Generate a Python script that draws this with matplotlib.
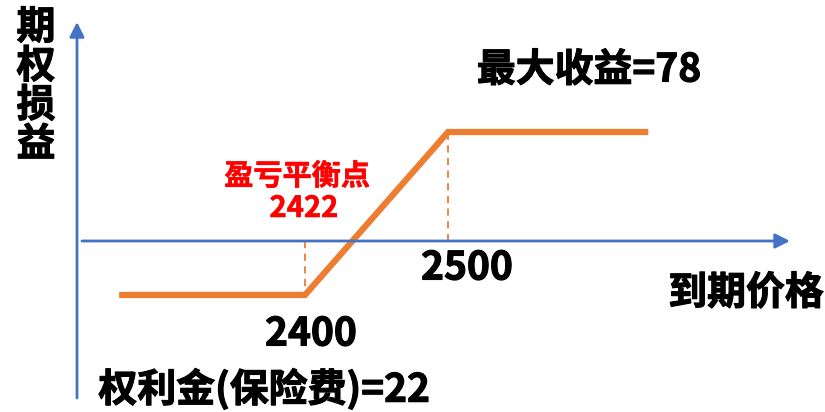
import numpy as np
import matplotlib
matplotlib.use("Agg")
from matplotlib import pyplot as plt
import matplotlib.patheffects as pe

plt.rcParams['font.family'] = ['Noto Sans CJK SC', 'DejaVu Sans']
plt.rcParams['font.weight'] = 'heavy'

# bull call spread payoff
price = [2270, 2400, 2500, 2640]
payoff = [-22, -22, 78, 78]
strike_low = 2400
strike_high = 2500
breakeven = 2422
max_gain = 78
premium = 22

blue = '#4472C4'
orange = '#ED7D31'

# losses drawn stretched so the small premium stays readable
k = 1.7565
def fwd(y):
    y = np.asarray(y, dtype=float)
    return np.where(y < 0, y * k, y)
def inv(t):
    t = np.asarray(t, dtype=float)
    return np.where(t < 0, t / k, t)

fig = plt.figure(figsize=(8.25, 4.12), dpi=100)
ax = fig.add_axes([0, 0, 1, 1])
ax.set_yscale('function', functions=(fwd, inv))
ax.set_xlim(2186.7, 2763.6)
ax.set_ylim(-69.7, 172.5)
ax.axis('off')

# axes arrows
arrow = dict(arrowstyle='-|>', color=blue, lw=2.0, mutation_scale=22, shrinkA=0, shrinkB=0)
ax.annotate('', xy=(77/825, 1 - 22/412), xytext=(77/825, 1 - 398/412),
            xycoords='figure fraction', arrowprops=arrow)
ax.annotate('', xy=(790/825, 1 - 241/412), xytext=(82/825, 1 - 241/412),
            xycoords='figure fraction', arrowprops=arrow)

# payoff line and strike guides
ax.plot(price, payoff, color=orange, lw=4.5, solid_joinstyle='miter', solid_capstyle='butt')
ax.plot([strike_low, strike_low], [0, -premium], color=orange, lw=1.3, ls=(0, (4, 3)))
ax.plot([strike_high, strike_high], [0, max_gain], color=orange, lw=1.3, ls=(0, (4, 3)))

# labels, thickened a little with a stroke of the same colour
def label(x, y, s, size, color='black', stroke=0.8, **kw):
    ax.text(x/825, 1 - y/412, s, transform=fig.transFigure, fontsize=size,
            ha='center', va='center', color=color,
            path_effects=[pe.withStroke(linewidth=stroke, foreground=color)], **kw)

label(36, 86, '期\n权\n损\n益', 28, linespacing=1.0)
label(746, 293, '到期价格', 28)
label(589, 70, f'最大收益={max_gain}', 28)
label(297, 176, '盈亏平衡点', 21, color='#FF0000', stroke=0.4)
label(304, 208, f'{breakeven}', 21, color='#FF0000', stroke=0.4)
label(467, 268, f'{strike_high}', 28)
label(311, 334, f'{strike_low}', 28)
label(264, 389, f'权利金(保险费)={premium}', 28)

fig.savefig('out.png', dpi=100)
